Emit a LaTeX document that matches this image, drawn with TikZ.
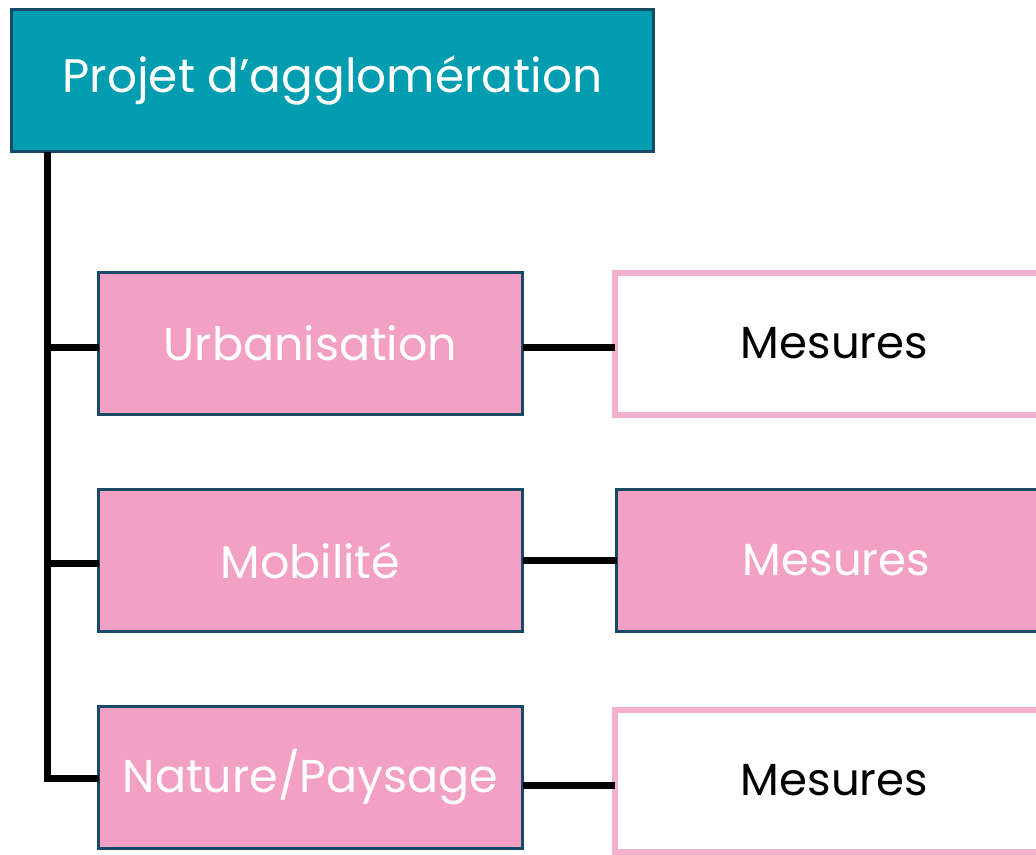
\documentclass[tikz,border=0pt]{standalone}
\usepackage{fontspec}
\setmainfont{Poppins}
\usepackage{tikz}
\usetikzlibrary{
	positioning,
	calc
}

\definecolor{tealbox}{HTML}{009DB0}
\definecolor{pinkbox}{HTML}{F3A0C5}
\definecolor{pinkline}{HTML}{F4B1CD}
\definecolor{navyline}{HTML}{174A66}

\begin{document}
\begin{tikzpicture}[
			x=1pt, y=1pt,
			headbox/.style={rectangle, draw=navyline, line width=3pt, fill=tealbox, text=white,
				minimum width=642pt, minimum height=142pt, inner sep=0, outer sep=0,
				font=\fontsize{47}{52}\selectfont},
			themebox/.style={rectangle, draw=navyline, line width=3pt, fill=pinkbox, text=white,
				minimum width=424pt, minimum height=142pt, inner sep=0, outer sep=0,
				font=\fontsize{46}{52}\selectfont},
			mesbox/.style={rectangle, draw=pinkline, line width=6pt, fill=white, text=black,
				minimum width=560pt, minimum height=142pt, inner sep=0, outer sep=0,
				font=\fontsize{45}{52}\selectfont},
			mesfull/.style={themebox, minimum width=560pt, font=\fontsize{45}{52}\selectfont},
			link/.style={line width=7pt, black}]

			\useasboundingbox (0,0) rectangle (1036,-854);
			\clip (0,0) rectangle (1036,-854);

			\node[headbox, anchor=north west] (proj) at (11.5,-9.5) {Projet d'agglomération};

			\node[themebox, below right=121pt and 87pt of proj.south west] (urb) {Urbanisation};
			\node[themebox, below=75pt of urb] (mob) {Mobilité};
			\node[themebox, below=75pt of mob] (nat) {Nature/Paysage};

			% text sits in the left part of the cut-off boxes
			\node[mesbox, right=92pt of urb, text width=440pt, align=center] (mesUrb) {Mesures\hspace*{120pt}};
			\node[mesfull, right=94pt of mob, text width=440pt, align=center] (mesMob) {Mesures\hspace*{120pt}};
			\node[mesbox, right=92pt of nat, yshift=-3pt, text width=440pt, align=center] (mesNat) {Mesures\hspace*{120pt}};

			\coordinate (spine) at ([xshift=36pt]proj.south west);
			\draw[link] (spine) |- ([yshift=-1pt]nat.west);
			\draw[link] (spine |- urb.west) ++(0,-4) -- ([yshift=-4pt]urb.west);
			\draw[link] (spine |- mob.west) ++(0,-3) -- ([yshift=-3pt]mob.west);

			\draw[link] ([yshift=-4pt]urb.east) -- ([yshift=-4pt]urb.east -| mesUrb.west);
			\draw[link] (mob.east) -- (mob.east -| mesMob.west);
			\draw[link] ([yshift=-8pt]nat.east) -- ([yshift=-8pt]nat.east -| mesNat.west);
		\end{tikzpicture}
\end{document}
